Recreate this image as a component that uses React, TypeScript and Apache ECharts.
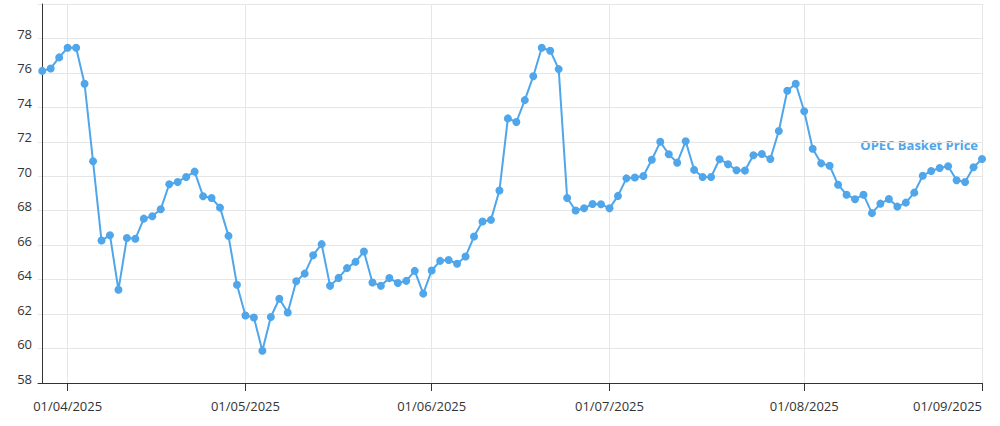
import React, { useEffect, useRef } from "react";
import * as echarts from "echarts";

const dates: string[] = [
  "2025-03-27", "2025-03-28", "2025-03-31",
  "2025-04-01", "2025-04-02", "2025-04-03", "2025-04-04",
  "2025-04-07", "2025-04-08", "2025-04-09", "2025-04-10", "2025-04-11",
  "2025-04-14", "2025-04-15", "2025-04-16", "2025-04-17",
  "2025-04-21", "2025-04-22", "2025-04-23", "2025-04-24", "2025-04-25",
  "2025-04-28", "2025-04-29", "2025-04-30",
  "2025-05-01", "2025-05-02",
  "2025-05-05", "2025-05-06", "2025-05-07", "2025-05-08", "2025-05-09",
  "2025-05-12", "2025-05-13", "2025-05-14", "2025-05-15", "2025-05-16",
  "2025-05-19", "2025-05-20", "2025-05-21", "2025-05-22", "2025-05-23",
  "2025-05-26", "2025-05-27", "2025-05-28", "2025-05-29", "2025-05-30",
  "2025-06-02", "2025-06-03", "2025-06-04", "2025-06-05", "2025-06-06",
  "2025-06-09", "2025-06-10", "2025-06-11", "2025-06-12", "2025-06-13",
  "2025-06-16", "2025-06-17", "2025-06-18", "2025-06-19", "2025-06-20",
  "2025-06-23", "2025-06-24", "2025-06-25", "2025-06-26", "2025-06-27",
  "2025-06-30",
  "2025-07-01", "2025-07-02", "2025-07-03", "2025-07-04",
  "2025-07-07", "2025-07-08", "2025-07-09", "2025-07-10", "2025-07-11",
  "2025-07-14", "2025-07-15", "2025-07-16", "2025-07-17", "2025-07-18",
  "2025-07-21", "2025-07-22", "2025-07-23", "2025-07-24", "2025-07-25",
  "2025-07-28", "2025-07-29", "2025-07-30", "2025-07-31",
  "2025-08-01",
  "2025-08-04", "2025-08-05", "2025-08-06", "2025-08-07", "2025-08-08",
  "2025-08-11", "2025-08-12", "2025-08-13", "2025-08-14", "2025-08-15",
  "2025-08-18", "2025-08-19", "2025-08-20", "2025-08-21", "2025-08-22",
  "2025-08-25", "2025-08-26", "2025-08-27", "2025-08-28", "2025-08-29",
  "2025-09-01",
];

const prices: number[] = [
  76.12, 76.26, 76.9, 77.46, 77.46, 75.37, 70.87, 66.27, 66.58, 63.41,
  66.42, 66.37, 67.54, 67.68, 68.09, 69.54, 69.67, 69.96, 70.27, 68.84,
  68.74, 68.18, 66.54, 63.7, 61.92, 61.8, 59.87, 61.83, 62.89, 62.09,
  63.91, 64.35, 65.42, 66.06, 63.64, 64.1, 64.67, 65.03, 65.63, 63.83,
  63.64, 64.09, 63.8, 63.93, 64.51, 63.19, 64.53, 65.09, 65.14, 64.92,
  65.34, 66.5, 67.37, 67.47, 69.17, 73.36, 73.15, 74.42, 75.81, 77.46,
  77.29, 76.22, 68.74, 68.01, 68.14, 68.39, 68.38, 68.14, 68.86, 69.88,
  69.93, 70.02, 70.96, 72.0, 71.28, 70.79, 72.03, 70.37, 69.96, 69.96,
  70.99, 70.7, 70.35, 70.33, 71.22, 71.29, 71.0, 72.63, 74.96, 75.37,
  73.77, 71.6, 70.75, 70.61, 69.51, 68.93, 68.67, 68.93, 67.86, 68.41,
  68.68, 68.24, 68.47, 69.05, 70.03, 70.31, 70.48, 70.58, 69.77, 69.67,
  70.52, 71.0,
];

const seriesName = "OPEC Basket Price";
const yTickValues = [58, 60, 62, 64, 66, 68, 70, 72, 74, 76, 78, 80];

const COLOR = "#4fa6ea";
const FONT = "'Open Sans', 'Noto Sans', sans-serif";

export default function App() {
  const ref = useRef<HTMLDivElement>(null);

  useEffect(() => {
    document.body.style.margin = "0";
    if (!ref.current) return;
    const chart = echarts.init(ref.current, undefined, { renderer: "svg" });

    // indices of the first trading day of every month
    const monthStarts: number[] = [];
    dates.forEach((d, i) => {
      if (i > 0 && d.slice(5, 7) !== dates[i - 1].slice(5, 7)) monthStarts.push(i);
    });

    const fmt = (v: number) => {
      const d = dates[Math.round(v)];
      if (!d) return "";
      return `01/${d.slice(5, 7)}/${d.slice(0, 4)}`;
    };

    chart.setOption({
      animation: false,
      textStyle: { fontFamily: FONT },
      grid: {
        left: 38,
        right: 18,
        top: 4,
        bottom: 43,
        containLabel: false,
        outerBoundsMode: "none",
      },
      xAxis: {
        type: "value",
        min: -0.5,
        max: dates.length - 1,
        axisLine: { show: true, lineStyle: { color: "#333", width: 1 } },
        axisTick: {
          show: true,
          length: 8,
          customValues: monthStarts,
          lineStyle: { color: "#333" },
        },
        axisLabel: {
          customValues: monthStarts,
          formatter: fmt,
          color: "#333",
          fontSize: 13,
          fontFamily: FONT,
          margin: 16,
          alignMaxLabel: "right",
          hideOverlap: false,
        },
        splitLine: { show: true, lineStyle: { color: "#e6e6e6", width: 1 } },
      },
      yAxis: {
        type: "value",
        min: yTickValues[0],
        max: yTickValues[yTickValues.length - 1],
        interval: 2,
        axisLine: { show: true, lineStyle: { color: "#333", width: 1 } },
        axisTick: { show: false },
        axisLabel: {
          color: "#333",
          fontSize: 13,
          fontFamily: FONT,
          margin: 6,
          showMaxLabel: false,
          verticalAlign: "bottom",
          lineHeight: 9,
        },
        splitLine: { show: true, lineStyle: { color: "#e6e6e6", width: 1 } },
      },
      graphic: [
        {
          type: "text",
          right: 22,
          top: 138,
          style: {
            text: seriesName,
            fill: COLOR,
            font: `bold 13px ${FONT}`,
          },
        },
      ],
      series: [
        {
          name: seriesName,
          type: "line",
          data: prices.map((v, i) => [i, v]),
          symbol: "circle",
          symbolSize: 8,
          showAllSymbol: true,
          lineStyle: { color: COLOR, width: 2 },
          itemStyle: { color: COLOR },
        },
      ],
    });

    return () => chart.dispose();
  }, []);

  return <div ref={ref} style={{ width: 1000, height: 426 }} />;
}
